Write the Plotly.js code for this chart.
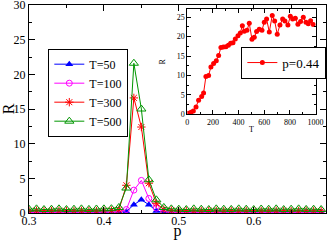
<!DOCTYPE html>
<html><head><meta charset="utf-8">
<script src="https://cdn.plot.ly/plotly-3.0.1.min.js"></script>
<style>html,body{margin:0;padding:0;background:#fff}#c{width:328px;height:240px}</style>
</head><body><div id="c"></div><script>
const p = [0.30,0.31,0.32,0.33,0.34,0.35,0.36,0.37,0.38,0.39,0.40,0.41,0.42,0.43,0.44,0.45,0.46,0.47,0.48,0.49,
           0.50,0.51,0.52,0.53,0.54,0.55,0.56,0.57,0.58,0.59,0.60,0.61,0.62,0.63,0.64,0.65,0.66,0.67,0.68,0.69];
const r50  = [0.05,0.04,0.05,0.06,0.05,0.04,0.05,0.05,0.06,0.05,0.05,0.06,0.08,0.2,1.2,1.9,1.2,0.3,0.1,0.06,
              0.05,0.05,0.04,0.05,0.05,0.06,0.05,0.04,0.05,0.05,0.05,0.04,0.05,0.06,0.05,0.05,0.04,0.05,0.05,0.05];
const r100 = [0.05,0.06,0.05,0.05,0.04,0.06,0.05,0.05,0.05,0.06,0.05,0.08,0.15,0.5,3.3,4.7,2.1,0.7,0.25,0.1,
              0.06,0.05,0.05,0.06,0.05,0.05,0.04,0.05,0.06,0.05,0.05,0.05,0.06,0.05,0.04,0.05,0.05,0.06,0.05,0.05];
const r300 = [0.3,0.32,0.28,0.3,0.33,0.29,0.3,0.31,0.3,0.28,0.32,0.35,0.45,4.0,16.6,12.4,4.3,1.4,0.5,0.35,
              0.3,0.31,0.29,0.3,0.32,0.3,0.28,0.31,0.3,0.3,0.32,0.29,0.3,0.31,0.3,0.28,0.3,0.31,0.3,0.29];
const r500 = [0.55,0.6,0.5,0.55,0.6,0.5,0.55,0.6,0.52,0.58,0.6,0.62,0.8,3.6,21.6,15.0,4.8,1.9,0.8,0.6,
              0.55,0.5,0.6,0.55,0.5,0.6,0.55,0.52,0.6,0.55,0.5,0.58,0.55,0.6,0.5,0.55,0.6,0.52,0.55,0.5];

const tIn = [8,29,47,68,88,112,127,145,166,184,205,226,244,262,281,301,320,338,356,374,395,413,429,444,465,483,
             504,522,540,561,582,600,618,639,662,681,701,722,743,761,784,803,821,842,862,883,904,925,943,961,982];
const rIn = [0.26,0.5,0.86,1.9,3.6,4.6,5.5,9.7,10.0,12.2,13.1,13.8,15.1,17.2,17.3,17.4,17.8,18.3,18.4,19.4,20.2,20.9,22.8,21.4,21.6,23.4,
             19.3,19.8,21.3,21.9,21.6,23.7,24.5,21.2,25.4,24.0,20.6,23.0,24.5,24.0,23.0,25.2,24.5,24.7,23.2,23.9,25.0,23.7,23.3,24.1,23.1];

const F = 'Liberation Serif, Times New Roman, serif';
const GREEN = 'rgb(0,150,0)';
const traces = [
  {x:p, y:r50, name:'T=50', mode:'lines+markers', line:{color:'#0000ff',width:1},
   marker:{symbol:'triangle-up', size:7, color:'#0000ff'}},
  {x:p, y:r100, name:'T=100', mode:'lines+markers', line:{color:'#ff00ff',width:1},
   marker:{symbol:'circle-open', size:6, color:'#ff00ff', line:{width:1}}},
  {x:p, y:r300, name:'T=300', mode:'lines+markers', line:{color:'#ff0000',width:1},
   marker:{symbol:'asterisk-open', size:7, color:'#ff0000', line:{width:1, color:'#ff0000'}}},
  {x:p, y:r500, name:'T=500', mode:'lines+markers', line:{color:GREEN,width:1},
   marker:{symbol:'triangle-up-open', size:8, color:GREEN, line:{width:1}}},
  {x:tIn, y:rIn, name:'p=0.44', mode:'lines+markers', xaxis:'x2', yaxis:'y2', legend:'legend2',
   line:{color:'#ff0000',width:1}, marker:{symbol:'circle', size:5, color:'#ff0000'}}
];
const ax = (o) => Object.assign({showline:true, linecolor:'#000', linewidth:1, mirror:'allticks',
  ticks:'inside', tickcolor:'#000', showgrid:false, zeroline:false, fixedrange:true,
  ticklabeloverflow:'allow'}, o);
const layout = {
  width:328, height:240, margin:{l:29, r:2, t:5, b:27},
  paper_bgcolor:'#fff', plot_bgcolor:'#fff', font:{family:F, color:'#000'},
  xaxis: ax({domain:[0,1], range:[0.3,0.6965], tickvals:[0.3,0.4,0.5,0.6], ticktext:['0.3','0.4','0.5','0.6'],
    ticklen:6, ticklabelstandoff:-3,
    minor:{tickvals:[0.35,0.45,0.55,0.65], ticklen:3, ticks:'inside', tickcolor:'#000'},
    tickfont:{family:F,size:12}, title:{text:'p', font:{family:F,size:16}, standoff:0}}),
  yaxis: ax({domain:[0,1], range:[0,30], dtick:5, tick0:0, ticklen:6,
    minor:{dtick:2.5, ticklen:3, ticks:'inside', tickcolor:'#000'},
    tickfont:{family:F,size:12}, title:{text:'R', font:{family:F,size:16}, standoff:5}}),
  xaxis2: ax({domain:[0.533,0.965], anchor:'y2', range:[0,1000], dtick:200, tick0:0, ticklen:4,
    minor:{dtick:100, ticklen:2, ticks:'inside', tickcolor:'#000'},
    tickfont:{family:F,size:8}, title:{text:'T', font:{family:F,size:8}, standoff:0}}),
  yaxis2: ax({domain:[0.4745,0.979], anchor:'x2', range:[0,27], dtick:5, tick0:0, ticklen:4,
    minor:{dtick:2.5, ticklen:2, ticks:'inside', tickcolor:'#000'},
    tickfont:{family:F,size:8}, title:{text:'R', font:{family:F,size:8}, standoff:9}}),
  showlegend:true,
  legend:{x:0.065, y:0.79, xanchor:'left', yanchor:'top', bordercolor:'#000', borderwidth:1,
    bgcolor:'rgba(255,255,255,0)', font:{family:F,size:12}, itemwidth:30, tracegroupgap:0},
  legend2:{x:0.715, y:0.80, xanchor:'left', yanchor:'top', bordercolor:'#000', borderwidth:1,
    bgcolor:'#fff', font:{family:F,size:13}, itemwidth:30}
};
Plotly.newPlot('c', traces, layout, {displayModeBar:false, staticPlot:true});
</script></body></html>
